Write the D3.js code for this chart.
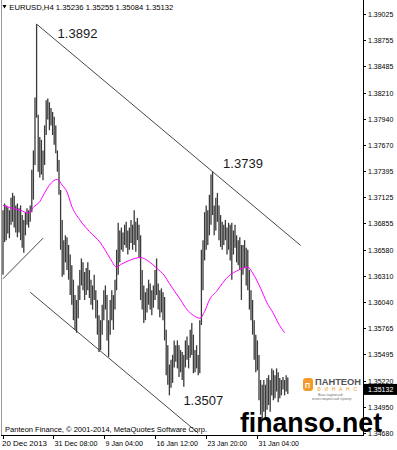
<!DOCTYPE html>
<html><head><meta charset="utf-8">
<script src="https://cdn.jsdelivr.net/npm/d3@7"></script>
<style>body{margin:0;background:#fff}svg{display:block}</style>
</head><body>
<script>
// ---- data ----
const symbol = "EURUSD,H4";
const lastOHLC = ["1.35236", "1.35255", "1.35084", "1.35132"];
const highs = [
1.3699,1.3706,1.3704,1.3702,1.3699,1.3712,1.3717,1.3714,1.3704,1.3706,
1.3701,1.3704,1.3694,1.3689,1.3697,1.3701,1.3699,1.3704,1.3741,1.3761,
1.3816,1.3892,1.3798,1.3775,1.3772,1.3761,1.3787,1.3813,1.3815,1.3811,
1.3805,1.3801,1.3796,1.3787,1.3761,1.3751,1.3720,1.3689,1.3668,1.3673,
1.3671,1.3663,1.3653,1.3642,1.3627,1.3611,1.3606,1.3621,1.3637,1.3649,
1.3645,1.3635,1.3639,1.3645,1.3637,1.3627,1.3621,1.3632,1.3616,1.3606,
1.3590,1.3585,1.3601,1.3616,1.3621,1.3611,1.3585,1.3606,1.3616,1.3611,
1.3627,1.3658,1.3686,1.3678,1.3681,1.3676,1.3684,1.3687,1.3678,1.3681,
1.3689,1.3684,1.3699,1.3687,1.3691,1.3684,1.3673,1.3637,1.3621,1.3614,
1.3618,1.3627,1.3623,1.3616,1.3621,1.3637,1.3649,1.3623,1.3616,1.3618,
1.3614,1.3609,1.3575,1.3559,1.3539,1.3544,1.3549,1.3564,1.3559,1.3564,
1.3559,1.3554,1.3552,1.3549,1.3564,1.3568,1.3559,1.3575,1.3582,1.3570,
1.3554,1.3559,1.3549,1.3585,1.3658,1.3668,1.3697,1.3704,1.3699,1.3715,
1.3736,1.3739,1.3704,1.3712,1.3717,1.3704,1.3694,1.3687,1.3684,1.3689,
1.3681,1.3686,1.3684,1.3686,1.3678,1.3684,1.3673,1.3668,1.3671,1.3663,
1.3663,1.3668,1.3660,1.3658,1.3637,1.3616,1.3606,1.3585,1.3570,1.3564,
1.3549,1.3523,1.3518,1.3523,1.3518,1.3525,1.3528,1.3523,1.3535,1.3533,
1.3528,1.3535,1.3531,1.3525,1.3523,1.3526,1.3523,1.3528,1.35255];
const lows = [
1.3632,1.3666,1.3668,1.3675,1.3670,1.3684,1.3687,1.3681,1.3676,1.3671,
1.3676,1.3668,1.3660,1.3655,1.3673,1.3684,1.3681,1.3687,1.3697,1.3710,
1.3746,1.3795,1.3739,1.3733,1.3736,1.3730,1.3746,1.3777,1.3793,1.3782,
1.3787,1.3777,1.3767,1.3758,1.3739,1.3715,1.3658,1.3630,1.3632,1.3645,
1.3637,1.3627,1.3611,1.3601,1.3585,1.3575,1.3572,1.3587,1.3606,1.3621,
1.3616,1.3606,1.3611,1.3616,1.3608,1.3601,1.3596,1.3606,1.3587,1.3570,
1.3552,1.3554,1.3570,1.3585,1.3596,1.3564,1.3547,1.3570,1.3585,1.3575,
1.3596,1.3616,1.3632,1.3645,1.3658,1.3656,1.3663,1.3660,1.3653,1.3658,
1.3665,1.3658,1.3663,1.3656,1.3668,1.3650,1.3606,1.3596,1.3582,1.3585,
1.3593,1.3601,1.3596,1.3590,1.3598,1.3606,1.3611,1.3596,1.3588,1.3593,
1.3585,1.3564,1.3528,1.3518,1.3507,1.3515,1.3520,1.3536,1.3542,1.3535,
1.3526,1.3531,1.3523,1.3516,1.3536,1.3544,1.3535,1.3546,1.3549,1.3530,
1.3531,1.3535,1.3528,1.3530,1.3580,1.3616,1.3647,1.3658,1.3663,1.3673,
1.3684,1.3694,1.3673,1.3678,1.3687,1.3668,1.3661,1.3658,1.3663,1.3668,
1.3653,1.3658,1.3647,1.3627,1.3653,1.3660,1.3645,1.3642,1.3637,1.3606,
1.3632,1.3639,1.3621,1.3616,1.3596,1.3585,1.3570,1.3544,1.3531,1.3533,
1.3502,1.3487,1.3481,1.3490,1.3483,1.3492,1.3497,1.3490,1.3507,1.3502,
1.3504,1.3511,1.3500,1.3504,1.3507,1.3513,1.3507,1.3511,1.35084];
// moving average read at sample bars
const maBars =   [0,4,11,16,19,23,26,29,34,37,40,43,48,54,61,67,71,74,79,86,91,96,101,104,111,115,119,123,126,129,134,137,142,146,150,153,156,161,165,169,172,176];
const maValues = [1.3704,1.3702,1.3699,1.3696,1.3702,1.3708,1.3717,1.3725,1.3731,1.3725,1.3718,1.3703,1.3689,1.3677,1.3665,1.3649,1.3640,1.3643,1.3647,1.3650,1.3646,1.3639,1.3631,1.3623,1.3606,1.3596,1.3590,1.3587,1.3594,1.3606,1.3616,1.3623,1.3632,1.3636,1.3639,1.3640,1.3634,1.3618,1.3603,1.3592,1.3582,1.3572];
// trend lines [bar, price] pairs
const upperLine = [[21, 1.3892], [186, 1.36625]];
const lowerLine = [[17, 1.3614], [122, 1.3468]];
const supportLine = [[0, 1.3628], [25, 1.3670]];
const annotations = [
  {text: "1.3892", bar: 21, price: 1.3892},
  {text: "1.3739", bar: 131, price: 1.3739},
  {text: "1.3507", bar: 104, price: 1.3507}
];
const priceTicks = ["1.39025","1.38755","1.38485","1.38210","1.37940","1.37670","1.37395","1.37125","1.36855","1.36580","1.36310","1.36040","1.35765","1.35495","1.35220","1.34950","1.34680"];
const timeTickBars = [0, 31, 63, 95, 127, 159];
const timeTickLabels = ["20 Dec 2013","31 Dec 08:00","9 Jan 04:00","16 Jan 12:00","23 Jan 20:00","31 Jan 04:00"];
const copyright = "Panteon Finance, \u00a9 2001-2014, MetaQuotes Software Corp.";

// ---- layout ----
const W = 397, H = 450;
const plotL = 2, plotR = 363, plotT = 0, plotB = 435;
const FONT = "'Liberation Sans', Arial, sans-serif";
const svg = d3.select("body").append("svg").attr("width", W).attr("height", H)
  .style("font-family", FONT);
svg.append("rect").attr("width", W).attr("height", H).attr("fill", "#fff");

const x = d3.scaleLinear().domain([0, highs.length - 1]).range([3, 287.8]);
const y = d3.scaleLinear().domain([1.34680, 1.39025]).range([433, 14]);

svg.append("clipPath").attr("id", "clip").append("rect")
  .attr("x", plotL).attr("y", plotT).attr("width", plotR - plotL).attr("height", plotB - plotT);
const g = svg.append("g").attr("clip-path", "url(#clip)");

// bars
g.append("g").selectAll("line").data(highs).join("line")
  .attr("x1", (d, i) => x(i)).attr("x2", (d, i) => x(i))
  .attr("y1", d => y(d)).attr("y2", (d, i) => y(lows[i]))
  .attr("stroke", "#3a3a3a").attr("stroke-width", 1.3);

// moving average
const ma = maBars.map((b, i) => [b, maValues[i]]);
g.append("path").datum(ma)
  .attr("d", d3.line().x(d => x(d[0])).y(d => y(d[1])).curve(d3.curveMonotoneX))
  .attr("fill", "none").attr("stroke", "#ff00ff").attr("stroke-width", 1);

// trend lines
[upperLine, lowerLine, supportLine].forEach(l => {
  g.append("line")
    .attr("x1", x(l[0][0])).attr("y1", y(l[0][1]))
    .attr("x2", x(l[1][0])).attr("y2", y(l[1][1]))
    .attr("stroke", "#333").attr("stroke-width", 0.9);
});

// annotations
const annOff = [[21, 14], [10.5, -4], [14, 10]];
annotations.forEach((a, i) => {
  svg.append("text").attr("x", x(a.bar) + annOff[i][0]).attr("y", y(a.price) + annOff[i][1])
    .attr("font-size", 13).attr("fill", "#1a1a1a").text(a.text);
});

// frame
svg.append("line").attr("x1", 1.5).attr("x2", 1.5).attr("y1", 0).attr("y2", plotB)
  .attr("stroke", "#9a9a9a").attr("stroke-width", 1);
svg.append("line").attr("x1", plotR + 0.5).attr("x2", plotR + 0.5).attr("y1", 0).attr("y2", plotB + 0.5)
  .attr("stroke", "#000").attr("stroke-width", 1);
svg.append("line").attr("x1", 1).attr("x2", plotR + 1).attr("y1", plotB + 0.5).attr("y2", plotB + 0.5)
  .attr("stroke", "#000").attr("stroke-width", 1);

// right axis
const ra = svg.append("g");
priceTicks.forEach(t => {
  const yy = Math.round(y(+t)) + 0.5;
  ra.append("line").attr("x1", plotR).attr("x2", plotR + 3).attr("y1", yy).attr("y2", yy).attr("stroke", "#000");
  ra.append("text").attr("x", 368).attr("y", yy + 2.5).attr("font-size", 7).attr("fill", "#000").text(t);
});
// current price tag
const cy = y(+lastOHLC[3]);
ra.append("rect").attr("x", 364).attr("y", cy - 5.5).attr("width", 33).attr("height", 11).attr("fill", "#000");
ra.append("text").attr("x", 368).attr("y", cy + 2.5).attr("font-size", 7).attr("fill", "#fff").text(lastOHLC[3]);

// bottom axis
const ba = svg.append("g");
timeTickBars.forEach((b, i) => {
  const xx = Math.round(x(b)) + 0.5;
  ba.append("line").attr("x1", xx).attr("x2", xx).attr("y1", plotB).attr("y2", plotB + 4).attr("stroke", "#000");
  const w = [45, 43, 37.5, 41.5, 39.5, 40.5][i];
  ba.append("text").attr("x", i === 0 ? 2 : xx + 1).attr("y", 446).attr("font-size", 7.5)
    .attr("textLength", w).attr("lengthAdjust", "spacingAndGlyphs").text(timeTickLabels[i]);
});

// header
svg.append("path").attr("d", "M2.5,5 L6.5,5 L4.5,8.5 Z").attr("fill", "#000");
svg.append("text").attr("x", 9.3).attr("y", 10).attr("font-size", 7.6)
  .attr("textLength", 164).attr("lengthAdjust", "spacingAndGlyphs")
  .text(symbol + "  " + lastOHLC.join(" "));

// copyright
svg.append("text").attr("x", 5).attr("y", 432).attr("font-size", 7.6)
  .attr("textLength", 202).attr("lengthAdjust", "spacingAndGlyphs").text(copyright);

// logo
const logo = svg.append("g");
logo.append("rect").attr("x", 303).attr("y", 378).attr("width", 10).attr("height", 13).attr("rx", 3).attr("fill", "#f39a2b");
logo.append("text").attr("x", 305).attr("y", 388).attr("font-size", 7).attr("font-weight", "bold").attr("fill", "#fff").text("П");
logo.append("text").attr("x", 315).attr("y", 385).attr("font-size", 8.5).attr("font-weight", "bold")
  .attr("fill", "#555").attr("textLength", 46).attr("lengthAdjust", "spacingAndGlyphs").text("ПАНТЕОН");
logo.append("text").attr("x", 317).attr("y", 391).attr("font-size", 5).attr("fill", "#f39a2b")
  .attr("textLength", 40).attr("lengthAdjust", "spacing").text("ФИНАНС");
logo.append("text").attr("x", 318).attr("y", 396).attr("font-size", 3.5).attr("fill", "#777").text("Ваш надёжный");
logo.append("text").attr("x", 312).attr("y", 400).attr("font-size", 3.5).attr("fill", "#777").text("инвестиционный брокер");

// watermark
svg.append("text").attr("x", 240).attr("y", 432)
  .attr("font-size", 28).attr("font-weight", "bold").attr("fill", "#000")
  .attr("textLength", 142).attr("lengthAdjust", "spacingAndGlyphs").text("finanso.net");
</script>
</body></html>
